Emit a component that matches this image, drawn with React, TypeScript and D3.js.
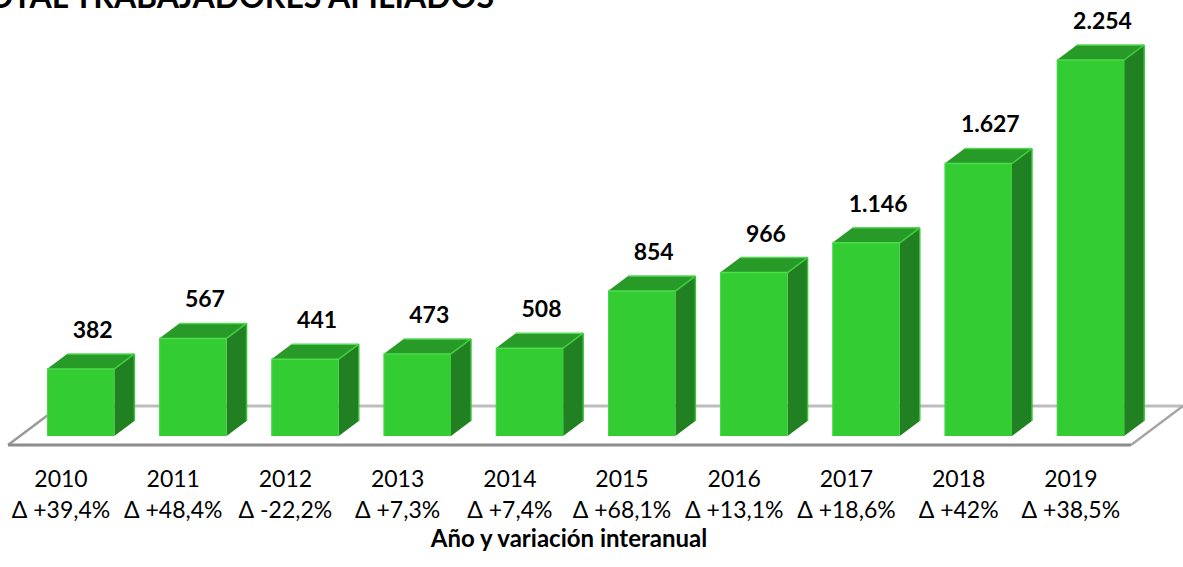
import React from 'react';
import * as d3 from 'd3';

const years = ['2010', '2011', '2012', '2013', '2014', '2015', '2016', '2017', '2018', '2019'];
const afiliados = [382, 567, 441, 473, 508, 854, 966, 1146, 1627, 2254];
const variacion = [39.4, 48.4, -22.2, 7.3, 7.4, 68.1, 13.1, 18.6, 42, 38.5];

const W = 1183;
const H = 567;
const FONT = 'Lato, "Open Sans", sans-serif';

const locale = d3.formatLocale({
  decimal: ',',
  thousands: '.',
  grouping: [3],
  currency: ['', ''],
  minus: '-',
});
const fmtValue = locale.format(',d');
const fmtDelta = locale.format('+.1~f');

// 3d offsets (depth of bars and of the floor)
const depthX = 20;
const depthY = 15;
const floorFront = 445;
const floorBack = 406;
const barBase = 436;

export default function App() {
  const x = d3.scaleBand<string>()
    .domain(years)
    .range([24.6, 1146.6])
    .paddingInner(0.4)
    .paddingOuter(0.2);
  const y = d3.scaleLinear().domain([0, 2254]).range([432, 60]);
  const bw = x.bandwidth();

  const floor = [
    [8, floorFront],
    [1131, floorFront],
    [1183, floorBack],
    [60, floorBack],
  ];

  return (
    <svg width={W} height={H} style={{ position: 'absolute', left: 0, top: 0, background: '#fff' }}>
      {/* title, cut off by the top edge as in the original */}
      <text x={494} y={8} textAnchor="end" fontFamily={FONT} fontWeight="bold" fontSize={32} fill="#000">
        TOTAL TRABAJADORES AFILIADOS
      </text>

      {/* floor */}
      <line x1={floor[3][0]} y1={floorBack} x2={floor[2][0]} y2={floorBack} stroke="#bdbdbd" strokeWidth={3} />
      <line x1={floor[0][0]} y1={floorFront} x2={floor[3][0]} y2={floorBack} stroke="#9a9a9a" strokeWidth={2.5} />
      <line x1={floor[1][0]} y1={floorFront} x2={floor[2][0]} y2={floorBack} stroke="#a5a5a5" strokeWidth={2.5} />
      <line x1={floor[0][0]} y1={floorFront} x2={floor[1][0]} y2={floorFront} stroke="#8c8c8c" strokeWidth={3} />

      {years.map((yr, i) => {
        const x0 = x(yr)!;
        const top = y(afiliados[i]);
        const x1 = x0 + bw;
        const side = `${x1},${top} ${x1 + depthX},${top - depthY} ${x1 + depthX},${barBase - depthY} ${x1},${barBase}`;
        const topFace = `${x0},${top} ${x0 + depthX},${top - depthY} ${x1 + depthX},${top - depthY} ${x1},${top}`;
        return (
          <g key={yr}>
            <polygon points={side} fill="#218021" />
            <polygon points={topFace} fill="#289a28" />
            <rect x={x0} y={top} width={bw} height={barBase - top} fill="#33cc33" />
            <line x1={x0} y1={top} x2={x1} y2={top} stroke="#4ddd4d" strokeWidth={1.5} />
            <line x1={x0 + 0.5} y1={top} x2={x0 + 0.5} y2={barBase} stroke="#45d845" strokeWidth={1} />
            <line x1={x1} y1={top} x2={x1 + depthX} y2={top - depthY} stroke="#3fd03f" strokeWidth={1.5} />
            <line x1={x0 + depthX} y1={top - depthY} x2={x1 + depthX} y2={top - depthY} stroke="#55d855" strokeWidth={1.5} />
            <line x1={x1 + depthX} y1={top - depthY} x2={x1 + depthX} y2={barBase - depthY} stroke="#36c436" strokeWidth={1.5} />
            <text
              x={x0 + bw / 2 + 12}
              y={top - depthY - 16}
              textAnchor="middle"
              fontFamily={FONT}
              fontWeight="bold"
              fontSize={23}
              fill="#000"
            >
              {fmtValue(afiliados[i])}
            </text>
            <text x={x0 + 14} y={487} textAnchor="middle" fontFamily={FONT} fontSize={23} fill="#000">
              {yr}
            </text>
            <text x={x0 + 14} y={518} textAnchor="middle" fontFamily={FONT} fontSize={23} fill="#000">
              {`Δ ${fmtDelta(variacion[i])}%`}
            </text>
          </g>
        );
      })}

      <text x={569} y={547} textAnchor="middle" fontFamily={FONT} fontWeight="bold" fontSize={24} fill="#000">
        Año y variación interanual
      </text>
    </svg>
  );
}
